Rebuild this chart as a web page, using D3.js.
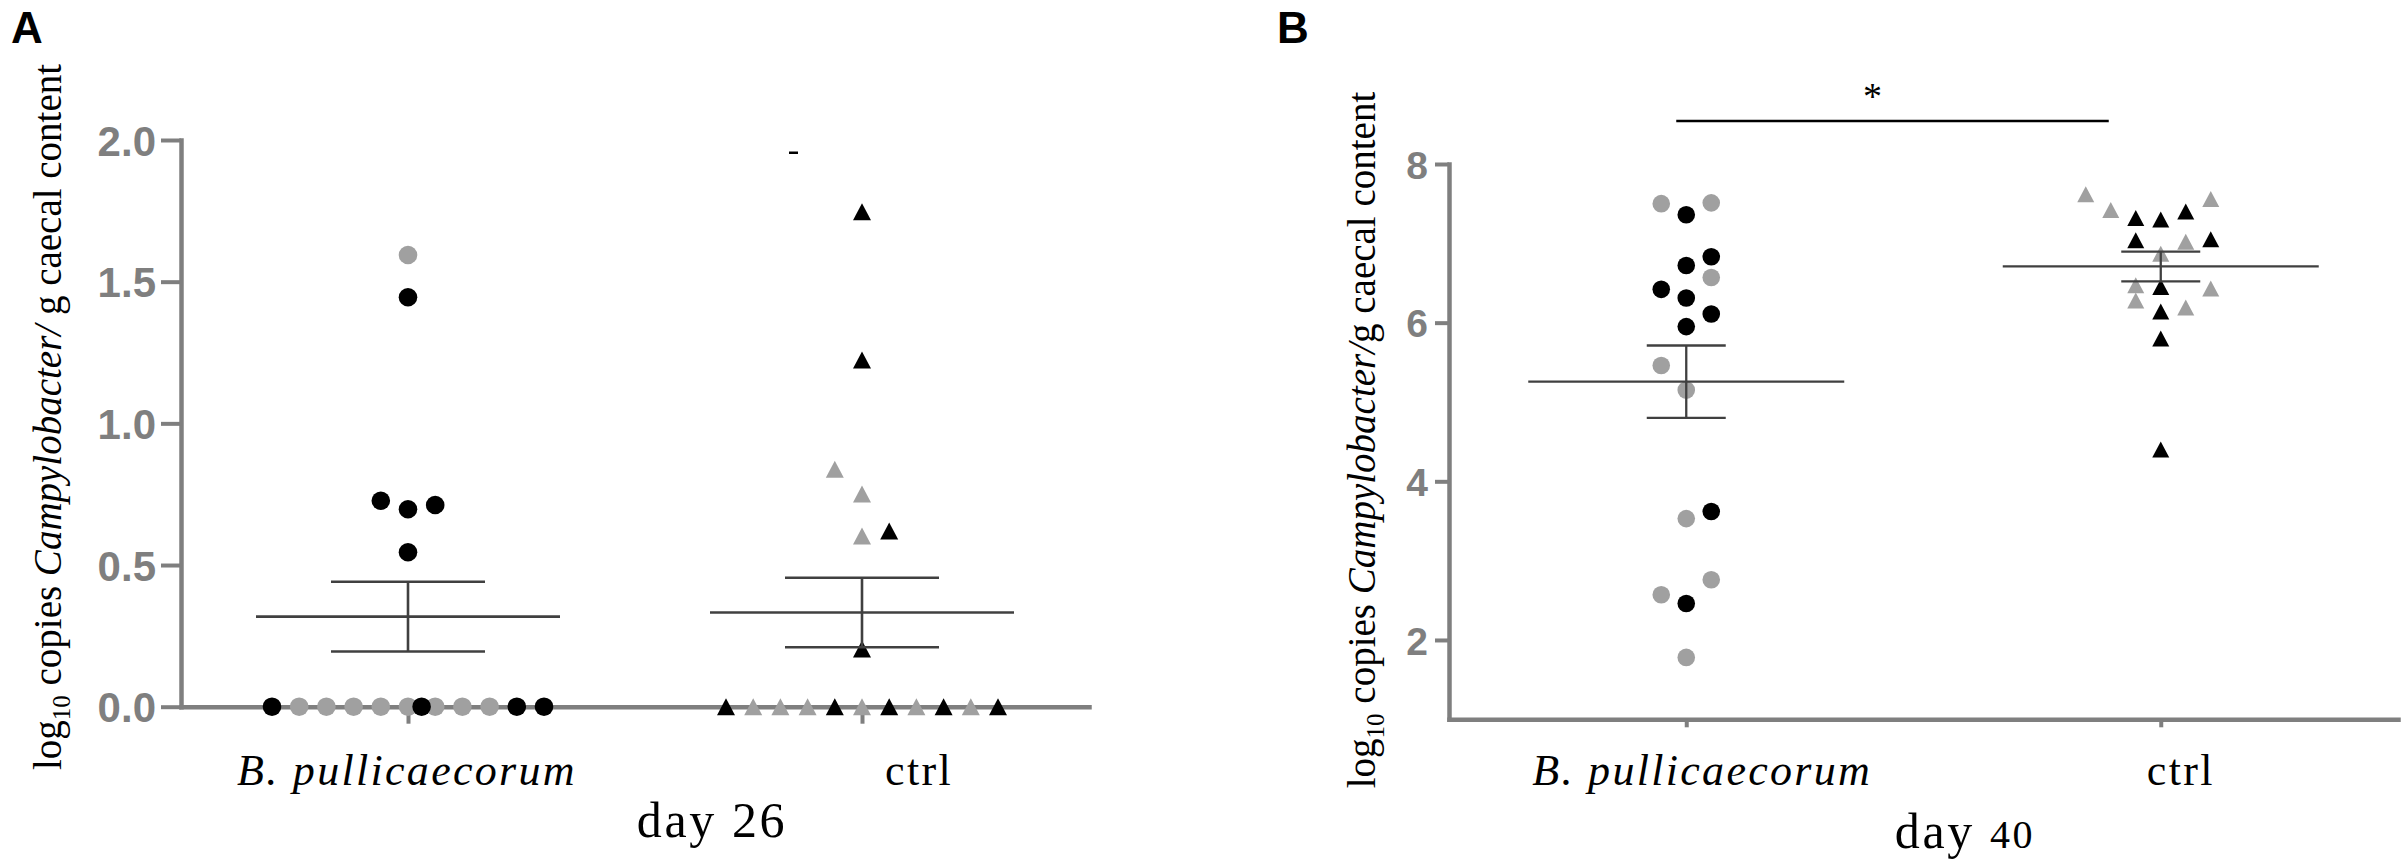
<!DOCTYPE html>
<html>
<head>
<meta charset="utf-8">
<script src="https://cdn.jsdelivr.net/npm/d3@7"></script>
<style>
  body { margin: 0; background: #fff; }
</style>
</head>
<body>
<div id="chart"></div>
<script>
var W = 2403, H = 863;

// ---- data ----
var categories = ["B. pullicaecorum", "ctrl"];

// day 26, run 1 = black, run 2 = grey, slot = position in the scatter column
var day26Bp     = [1.594, 1.445, 0.727, 0.697, 0.712, 0.545, 0, 0, 0, 0, 0, 0, 0, 0, 0, 0, 0, 0];
var day26BpRun  = [2, 1, 1, 1, 1, 1, 1, 2, 2, 2, 2, 2, 1, 2, 2, 2, 1, 1];
var day26BpSlot = [0, 0, -1, 0, 1, 0, -5, -4, -3, -2, -1, 0, 0.5, 1, 2, 3, 4, 5];

var day26Ctrl     = [1.747, 1.224, 0.838, 0.751, 0.602, 0.620, 0.204, 0, 0, 0, 0, 0, 0, 0, 0, 0, 0, 0];
var day26CtrlRun  = [1, 1, 2, 2, 2, 1, 1, 1, 2, 2, 2, 1, 2, 1, 2, 1, 2, 1];
var day26CtrlSlot = [0, 0, -1, 0, 0, 1, 0, -5, -4, -3, -2, -1, 0, 1, 2, 3, 4, 5];

var day40Bp     = [7.50, 7.51, 7.36, 6.83, 6.72, 6.57, 6.42, 6.31, 6.11, 5.95, 5.46, 5.15, 3.62, 3.53, 2.76, 2.57, 2.46, 1.78];
var day40BpRun  = [2, 2, 1, 1, 1, 2, 1, 1, 1, 1, 2, 2, 1, 2, 2, 2, 1, 2];
var day40BpSlot = [-1, 1, 0, 1, 0, 1, -1, 0, 1, 0, -1, 0, 1, 0, 1, -1, 0, 0];

var day40Ctrl     = [7.62, 7.42, 7.32, 7.30, 7.40, 7.56, 7.04, 7.02, 7.05, 6.87, 6.47, 6.45, 6.43, 6.28, 6.19, 6.14, 5.80, 4.40];
var day40CtrlRun  = [2, 2, 1, 1, 1, 2, 1, 2, 1, 2, 2, 1, 2, 2, 2, 1, 1, 1];
var day40CtrlSlot = [-3, -2, -1, 0, 1, 2, -1, 1, 2, 0, -1, 0, 2, -1, 1, 0, 0, 0];

var day26Ticks = [0, 0.5, 1, 1.5, 2];
var day40Ticks = [2, 4, 6, 8];

// ---- styling ----
var axisGrey = "#7f7f7f";
var lineGrey = "#404040";
var sans = "'Liberation Sans', Arial, Helvetica, sans-serif";
var serif = "'Liberation Serif', 'Times New Roman', Times, serif";

var color = d3.scaleOrdinal().domain([1, 2]).range(["#000000", "#a0a0a0"]);

var svg = d3.select("#chart")
  .append("svg")
    .attr("width", W)
    .attr("height", H);

svg.append("rect").attr("width", W).attr("height", H).attr("fill", "#fff");

function triangle(w, h) {
  return {
    draw: function (ctx) {
      ctx.moveTo(0, -h / 2);
      ctx.lineTo(w / 2, h / 2);
      ctx.lineTo(-w / 2, h / 2);
      ctx.closePath();
    }
  };
}

function panel(p) {
  var g = svg.append("g");

  var x = d3.scalePoint().domain(categories).range([p.left, p.right]).padding(0.5);
  var y = d3.scaleLinear().domain(p.domain).range([p.bottom, p.top]);

  // y axis
  var ya = g.append("g")
    .attr("transform", "translate(" + p.left + ",0)")
    .call(d3.axisLeft(y).tickValues(p.ticks).tickFormat(d3.format(p.fmt))
      .tickSize(p.ytick).tickSizeOuter(0).tickPadding(p.ypad));
  ya.select(".domain").attr("stroke", axisGrey).attr("stroke-width", 4.5).attr("stroke-linecap", "square");
  ya.selectAll(".tick line").attr("stroke", axisGrey).attr("stroke-width", 4);
  ya.selectAll(".tick text")
    .attr("fill", axisGrey)
    .attr("dy", "0.36em")
    .style("font-family", sans)
    .style("font-weight", "bold")
    .style("font-size", p.tickFont + "px");

  // x axis
  var xa = g.append("g")
    .attr("transform", "translate(0," + p.bottom + ")")
    .call(d3.axisBottom(x).tickSize(p.xtick).tickSizeOuter(0).tickFormat(""));
  xa.select(".domain").attr("stroke", axisGrey).attr("stroke-width", 4.5).attr("stroke-linecap", "square");
  xa.selectAll(".tick line").attr("stroke", axisGrey).attr("stroke-width", 4);

  // category labels
  g.selectAll(".cat")
    .data(categories)
    .enter()
      .append("text")
        .attr("class", "cat")
        .attr("x", function (d, i) { return x(d) + p.labelShift[i]; })
        .attr("y", p.labelY)
        .attr("text-anchor", "middle")
        .style("font-family", serif)
        .style("font-size", "44px")
        .style("letter-spacing", "2.3px")
        .style("font-style", function (d, i) { return i == 0 ? "italic" : "normal"; })
        .text(function (d) { return d; });

  // points
  var tri = d3.symbol().type(triangle(p.triW, p.triH))();
  p.series.forEach(function (s, si) {
    var cx = x(categories[si]);
    var pts = s.values.map(function (v, i) { return {v: v, run: s.run[i], slot: s.slot[i]}; })
      .sort(function (a, b) { return b.run - a.run; });

    if (si == 0) {
      g.append("g").selectAll("circle")
        .data(pts)
        .enter()
          .append("circle")
            .attr("cx", function (d) { return cx + d.slot * p.step; })
            .attr("cy", function (d) { return y(d.v); })
            .attr("r", p.r)
            .attr("fill", function (d) { return color(d.run); });
    } else {
      g.append("g").selectAll("path")
        .data(pts)
        .enter()
          .append("path")
            .attr("d", tri)
            .attr("transform", function (d) { return "translate(" + (cx + d.slot * p.step) + "," + y(d.v) + ")"; })
            .attr("fill", function (d) { return color(d.run); });
    }

    // mean +- SEM
    var m = d3.mean(s.values);
    var sem = d3.deviation(s.values) / Math.sqrt(s.values.length);
    var lines = [
      [cx - p.meanHalf, y(m), cx + p.meanHalf, y(m)],
      [cx - p.capHalf, y(m + sem), cx + p.capHalf, y(m + sem)],
      [cx - p.capHalf, y(m - sem), cx + p.capHalf, y(m - sem)],
      [cx, y(m + sem), cx, y(m - sem)]
    ];
    g.append("g").selectAll("line")
      .data(lines)
      .enter()
        .append("line")
          .attr("x1", function (d) { return d[0]; })
          .attr("y1", function (d) { return d[1]; })
          .attr("x2", function (d) { return d[2]; })
          .attr("y2", function (d) { return d[3]; })
          .attr("stroke", lineGrey)
          .attr("stroke-width", p.lineW);
  });

  // y axis title
  var yl = svg.append("text")
    .attr("transform", "translate(" + p.ylabX + "," + p.ylabY + ") rotate(-90)")
    .attr("text-anchor", "middle")
    .style("font-family", serif)
    .style("font-size", "39px")
    .attr("fill", "#000");
  yl.append("tspan").text("log");
  yl.append("tspan").attr("dy", 9).style("font-size", "25px").text("10");
  yl.append("tspan").attr("dy", -9).text(" copies ");
  yl.append("tspan").style("font-style", "italic").text("Campylobacter/");
  yl.append("tspan").text(p.slashGap + "g caecal content");

  // day label
  var dl = svg.append("text")
    .attr("x", p.dayX)
    .attr("y", p.dayY)
    .attr("text-anchor", "middle")
    .style("font-family", serif)
    .style("font-size", "50px")
    .style("letter-spacing", "2.6px");
  dl.append("tspan").text("day ");
  dl.append("tspan").style("font-size", p.daySmall ? "40px" : "50px").text(p.day);

  // panel letter
  svg.append("text")
    .attr("x", p.letterX)
    .attr("y", 43)
    .style("font-family", sans)
    .style("font-weight", "bold")
    .style("font-size", "44px")
    .text(p.letter);

  return {x: x, y: y, g: g};
}

var A = panel({
  letter: "A", letterX: 11,
  left: 181, right: 1089, top: 140, bottom: 706.7,
  domain: [0, 2], ticks: day26Ticks, fmt: ".1f",
  ytick: 20, ypad: 5, tickFont: 42, xtick: 17,
  step: 27.2, r: 9.3, triW: 18, triH: 17,
  meanHalf: 152, capHalf: 77, lineW: 2.6,
  labelShift: [-1, 57], labelY: 785,
  ylabX: 61, ylabY: 417, slashGap: " ",
  dayX: 712, dayY: 837, day: "26", daySmall: false,
  series: [
    {values: day26Bp, run: day26BpRun, slot: day26BpSlot},
    {values: day26Ctrl, run: day26CtrlRun, slot: day26CtrlSlot}
  ]
});

// small stray mark near the top of the ctrl column
A.g.append("line")
  .attr("x1", A.x("ctrl") - 73).attr("x2", A.x("ctrl") - 64)
  .attr("y1", A.y(1.955)).attr("y2", A.y(1.955))
  .attr("stroke", "#000").attr("stroke-width", 2.5);

var B = panel({
  letter: "B", letterX: 1277,
  left: 1449, right: 2398, top: 164, bottom: 719.3,
  domain: [1, 8], ticks: day40Ticks, fmt: "d",
  ytick: 14, ypad: 7, tickFont: 39, xtick: 8,
  step: 25, r: 8.8, triW: 17, triH: 16,
  meanHalf: 158, capHalf: 39.5, lineW: 2.3,
  labelShift: [16, 20], labelY: 785,
  ylabX: 1375, ylabY: 440, slashGap: "",
  dayX: 1965, dayY: 848, day: "40", daySmall: true,
  series: [
    {values: day40Bp, run: day40BpRun, slot: day40BpSlot},
    {values: day40Ctrl, run: day40CtrlRun, slot: day40CtrlSlot}
  ]
});

// significance bar
B.g.append("line")
  .attr("x1", B.x("B. pullicaecorum") - 10)
  .attr("x2", B.x("ctrl") - 52)
  .attr("y1", 121).attr("y2", 121)
  .attr("stroke", "#000")
  .attr("stroke-width", 2.5);

B.g.append("text")
  .attr("x", (B.x("B. pullicaecorum") + B.x("ctrl")) / 2 - 51)
  .attr("y", 109)
  .attr("text-anchor", "middle")
  .style("font-family", serif)
  .style("font-size", "38px")
  .text("*");
</script>
</body>
</html>
